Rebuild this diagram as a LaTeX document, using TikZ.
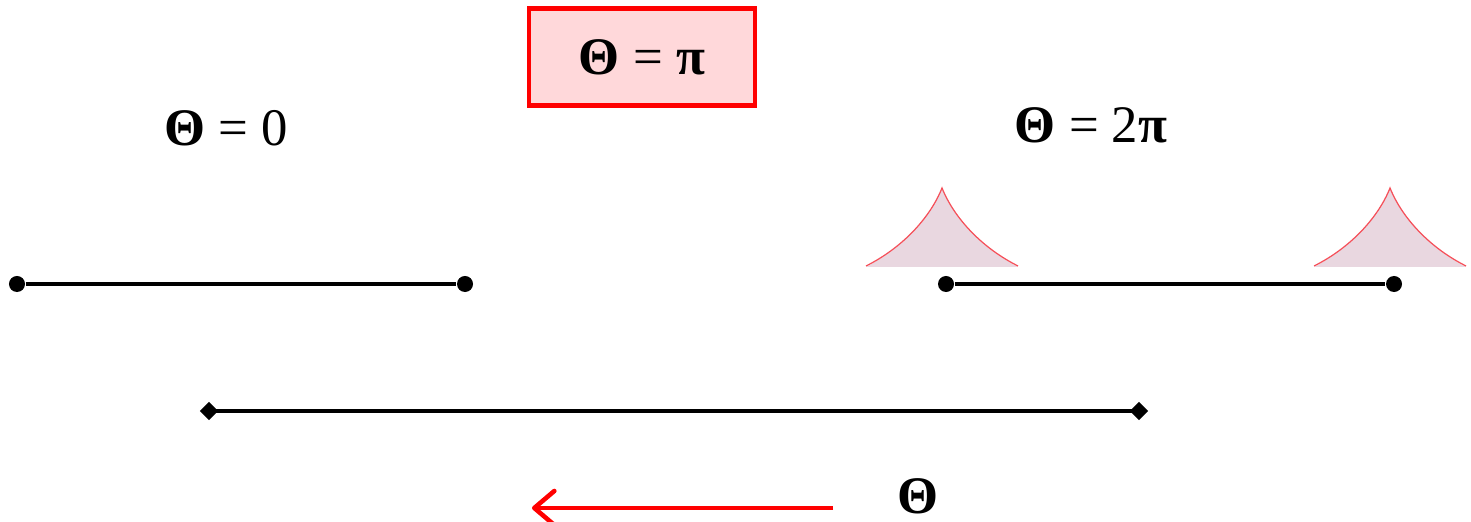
\documentclass[tikz,border=0pt]{standalone}
\usepackage{fontspec}
\setmainfont{Liberation Serif}
\usetikzlibrary{arrows.meta,positioning,shapes.geometric}
\definecolor{boxpink}{RGB}{255,216,218}
\definecolor{cuspfill}{RGB}{233,215,224}
\definecolor{cuspline}{RGB}{245,80,90}
\newcommand{\thetasym}{\textbf{Θ}}
\tikzset{
  endpoint/.style={circle, fill=black, inner sep=0pt, minimum size=0.16cm},
  endtip/.style={diamond, fill=black, inner sep=0pt, minimum size=0.19cm},
  segline/.style={draw=black, line width=0.9pt},
  statebox/.style={draw=red, fill=boxpink, line width=1.2pt, minimum width=2.26cm, minimum height=0.97cm, font=\fontsize{15}{18}\selectfont},
  statelabel/.style={font=\fontsize{15}{18}\selectfont},
  dirarrow/.style={-{Straight Barb[length=2mm,width=3.4mm,line width=1.3pt,round]}, draw=red, line width=1.2pt},
  cusp/.style={fill=cuspfill},
  cuspedge/.style={draw=cuspline, line width=0.35pt}
}

\begin{document}
\begin{tikzpicture}[x=0.01cm,y=-0.01cm]
  \useasboundingbox (0,0) rectangle (1471,522);

  \node[statebox] (boxPi) at (642,57) {\thetasym{} = \textbf{π}};
  \node[statelabel] (labZero) at (226,128) {\thetasym{} = 0};
  \node[statelabel] (labTwoPi) at (1091,125) {\thetasym{} = 2\textbf{π}};

  % cusps
  \foreach \cx in {942,1390} {
    \fill[cusp] (\cx-76,267) .. controls (\cx-40,248) and (\cx-12,218) .. (\cx,188)
      .. controls (\cx+12,218) and (\cx+40,248) .. (\cx+76,267) -- cycle;
    \draw[cuspedge] (\cx-76,266) .. controls (\cx-40,248) and (\cx-12,218) .. (\cx,188)
      .. controls (\cx+12,218) and (\cx+40,248) .. (\cx+76,266);
  }

  \node[endpoint] (a1) at (17,284) {};
  \node[endpoint] (a2) at (465,284) {};
  \draw[segline] (a1) -- (a2);

  \node[endpoint] (b1) at (946,284) {};
  \node[endpoint] (b2) at (1394,284) {};
  \draw[segline] (b1) -- (b2);

  \node[endtip] (c1) at (209,411) {};
  \node[endtip] (c2) at (1139,411) {};
  \draw[segline] (c1.center) -- (c2.center);

  \coordinate (arrStart) at (833,508);
  \coordinate (arrEnd) at (532,508);
  \draw[dirarrow] (arrStart) -- (arrEnd);
  \node[statelabel, inner sep=0pt] (labTheta) at (918,496) {\thetasym};
\end{tikzpicture}
\end{document}
